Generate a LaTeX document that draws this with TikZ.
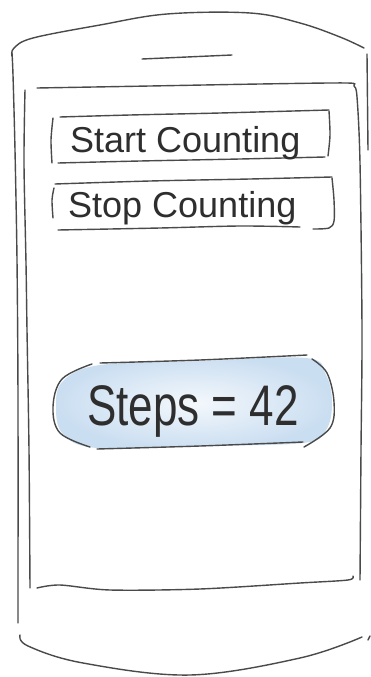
\documentclass[tikz,border=0pt]{standalone}
\usepackage{fontspec}
\setmainfont{Liberation Sans}
\definecolor{ink}{HTML}{4A4A4A}
\definecolor{txt}{HTML}{2E2E2E}
\definecolor{pillin}{HTML}{F4F8FC}
\definecolor{pillout}{HTML}{CADEF1}
\begin{document}
\begin{tikzpicture}[x=1pt,y=-1pt,
  sketch/.style={draw=ink,line width=1.4pt,line cap=round,line join=round},
  btntext/.style={anchor=base west,inner sep=0pt,text=txt,font=\fontsize{36}{40}\selectfont},
  pilltext/.style={anchor=base west,inner sep=0pt,text=txt,font=\fontsize{44}{48}\selectfont}]
\useasboundingbox (0,0) rectangle (371,677);
\fill[white] (0,0) rectangle (371,677);
% pill fill
\shade[inner color=pillin,outer color=pillout]
  plot[smooth cycle,tension=0.6] coordinates {(100,365) (200,361) (306,358) (326,375) (332,403) (326,430) (303,443) (200,446) (97,448) (63,434) (56,407) (63,381)};
% outer phone body
\draw[sketch] plot[smooth,tension=0.6] coordinates {(12,56) (14,48) (33,38) (100,25) (167,14) (250,13) (300,23) (340,37) (364,48)};
\draw[sketch] plot[smooth,tension=0.5] coordinates {(12,53) (13,75) (15,150) (17,260) (18,400) (18,623)};
\draw[sketch] (367,54) -- (368,150);
\draw[sketch] plot[smooth,tension=0.6] coordinates {(20,635) (28,646) (83,663) (190,675) (300,658) (362,637)};
\draw[sketch] (368,640) -- (370,636);
% earpiece
\draw[sketch] (142,59) -- (232,55);
% screen
\draw[sketch] plot[smooth,tension=0.5] coordinates {(37,88) (150,86) (260,84) (347,83) (354,86) (357,97) (360,163) (362,330) (361,450) (360,580)};
\draw[sketch] plot[smooth,tension=0.5] coordinates {(25,90) (24,163) (26,263) (27,330) (29,450) (30,588)};
\draw[sketch] plot[smooth,tension=0.5] coordinates {(37,588) (60,585) (110,590) (200,589) (300,583) (348,580) (353,576)};
% button 1
\draw[sketch] plot[smooth,tension=0.5] coordinates {(53,118) (51,140) (52,163)};
\draw[sketch] plot[smooth,tension=0.5] coordinates {(60,117) (130,115) (220,113) (329,110)};
\draw[sketch] plot[smooth,tension=0.5] coordinates {(329,111) (330,135) (328,156)};
\draw[sketch] plot[smooth,tension=0.5] coordinates {(58,163) (140,161) (240,159) (325,157)};
\node[btntext] (start) at (70,152) {Start Counting};
% button 2
\draw[sketch] plot[smooth,tension=0.5] coordinates {(54,188) (52,200) (53,218)};
\draw[sketch] plot[smooth,tension=0.5] coordinates {(55,184) (150,181) (250,179) (332,177)};
\draw[sketch] plot[smooth,tension=0.5] coordinates {(332,178) (334,200) (334,221) (329,228) (313,229)};
\draw[sketch] plot[smooth,tension=0.5] coordinates {(58,230) (160,228) (240,226) (300,227)};
\node[btntext] (stop) at (68,217) {Stop Counting};
% pill outline
\draw[sketch] plot[smooth,tension=0.5] coordinates {(100,363) (200,360) (307,355)};
\draw[sketch] plot[smooth,tension=0.6] coordinates {(92,364) (62,379) (53,407) (60,433) (90,447)};
\draw[sketch] plot[smooth,tension=0.5] coordinates {(97,449) (200,446) (303,442)};
\draw[sketch] plot[smooth,tension=0.6] coordinates {(312,359) (327,373) (334,402) (330,428) (304,447)};
\node[pilltext] (steps) at (87,425) {\scalebox{1}[1.3]{Steps = 42}};
\end{tikzpicture}
\end{document}
